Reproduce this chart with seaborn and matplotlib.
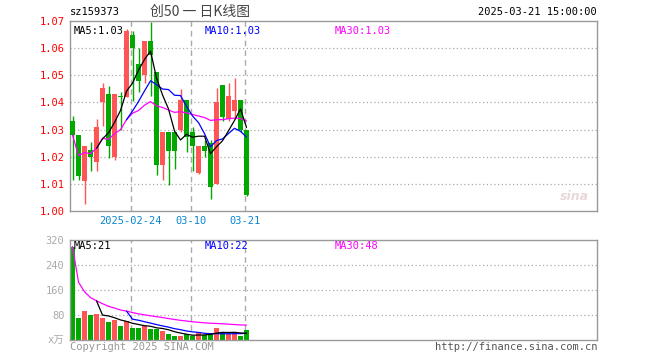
import numpy as np
import pandas as pd
import matplotlib
matplotlib.use("Agg")
import matplotlib.pyplot as plt
import seaborn as sns
from matplotlib.transforms import blended_transform_factory

sns.set_theme(style="white")
plt.rcParams['font.family'] = ['DejaVu Sans Mono', 'Noto Sans CJK SC']

# ---------------- data ----------------
dates = ["2025-02-10", "2025-02-11", "2025-02-12", "2025-02-13", "2025-02-14",
         "2025-02-17", "2025-02-18", "2025-02-19", "2025-02-20", "2025-02-21",
         "2025-02-24", "2025-02-25", "2025-02-26", "2025-02-27", "2025-02-28",
         "2025-03-03", "2025-03-04", "2025-03-05", "2025-03-06", "2025-03-07",
         "2025-03-10", "2025-03-11", "2025-03-12", "2025-03-13", "2025-03-14",
         "2025-03-17", "2025-03-18", "2025-03-19", "2025-03-20", "2025-03-21"]
opens = [1.033, 1.028, 1.011, 1.0225, 1.018, 1.040, 1.043, 1.020, 1.0421, 1.042,
         1.065, 1.054, 1.050, 1.0626, 1.0512, 1.0168, 1.029, 1.029, 1.030, 1.041,
         1.029, 1.014, 1.0238, 1.025, 1.0098, 1.0463, 1.034, 1.037, 1.041, 1.030]
closes = [1.028, 1.0128, 1.0238, 1.020, 1.031, 1.0452, 1.024, 1.043, 1.0420, 1.0665,
          1.060, 1.048, 1.0626, 1.0575, 1.0168, 1.029, 1.022, 1.022, 1.041, 1.0272,
          1.0238, 1.0238, 1.022, 1.0088, 1.040, 1.0348, 1.0422, 1.041, 1.030, 1.0058]
highs = [1.035, 1.028, 1.024, 1.0255, 1.034, 1.047, 1.046, 1.043, 1.0438, 1.067,
         1.0665, 1.060, 1.0626, 1.0696, 1.0512, 1.029, 1.029, 1.029, 1.045, 1.041,
         1.031, 1.0238, 1.026, 1.026, 1.0453, 1.0463, 1.047, 1.049, 1.041, 1.030]
lows = [1.0113, 1.0115, 1.0027, 1.0148, 1.0146, 1.0315, 1.0195, 1.0187, 1.030, 1.042,
        1.0407, 1.044, 1.047, 1.0425, 1.0134, 1.0115, 1.0097, 1.0153, 1.029, 1.0217,
        1.0147, 1.0135, 1.020, 1.0045, 1.0098, 1.033, 1.033, 1.034, 1.029, 1.0054]
volumes = [299, 71, 93, 80, 84, 70, 58, 64, 45, 61,
           39, 39, 45, 36, 36, 28, 19, 14, 14, 18,
           12, 21, 16, 23, 39, 23, 19, 19, 13, 32]

price_ticks = [1.00, 1.01, 1.02, 1.03, 1.04, 1.05, 1.06, 1.07]
vol_ticks = [0, 80, 160, 240, 320]
vol_tick_labels = ["x万", "80", "160", "240", "320"]
date_marks = ["2025-02-24", "2025-03-10", "2025-03-21"]
date_mark_labels = ["2025-02-24", "03-10", "03-21"]

code = "sz159373"
title = "创50 一 日K线图"
stamp = "2025-03-21 15:00:00"

df = pd.DataFrame({"i": np.arange(len(dates)), "date": dates, "open": opens,
                   "close": closes, "high": highs, "low": lows, "vol": volumes})
df["ma5"] = df["close"].rolling(5).mean()
df["ma10"] = df["close"].rolling(10).mean()
df["ma30"] = df["close"].expanding().mean()
df["vma5"] = df["vol"].rolling(5).mean()
df["vma10"] = df["vol"].rolling(10).mean()
df["vma30"] = df["vol"].expanding().mean()

RED = "#ff5555"
GREEN = "#00a800"
GRID = "#aaaaaa"
FRAME = "#999999"
colors = [RED if c >= o else GREEN for o, c in zip(opens, closes)]

# ---------------- figure ----------------
W, H = 660, 360
fig = plt.figure(figsize=(6.6, 3.6), dpi=100)
fig.patch.set_facecolor("white")
ax = fig.add_axes([70 / W, 1 - 211 / H, 527 / W, 190 / H])
axv = fig.add_axes([70 / W, 1 - 340 / H, 527 / W, 100 / H])

xlim = (-0.42, 87.42)
mark_idx = [dates.index(d) for d in date_marks]

for a in (ax, axv):
    a.set_facecolor("white")
    a.set_xlim(*xlim)
    for s in a.spines.values():
        s.set_color(FRAME)
        s.set_linewidth(1.0)
    a.set_xticks([])
    for i in mark_idx:
        a.axvline(i - 0.33, color=GRID, ls=(0, (4, 3)), lw=1.0, zorder=0)

# main panel
ax.set_ylim(1.0, 1.07)
for y in price_ticks[1:-1]:
    ax.axhline(y, color=GRID, ls=(0, (1, 2)), lw=0.9, zorder=0)

ax.vlines(df["i"], df["low"], df["high"], colors=colors, lw=1.0, zorder=2)
body_bottom = np.minimum(df["open"], df["close"])
body_h = np.maximum(np.abs(df["close"] - df["open"]), 0.00025)
ax.bar(df["i"], body_h, bottom=body_bottom, width=0.8, color=colors,
       edgecolor="none", zorder=3)

for col, c in (("ma30", "#ff00ff"), ("ma10", "#0000ff"), ("ma5", "#000000")):
    d = df.dropna(subset=[col])
    sns.lineplot(data=d, x="i", y=col, ax=ax, color=c, lw=0.9, zorder=4, legend=False)
ax.set_xlabel("")
ax.set_ylabel("")
ax.set_xticks([])
ax.set_yticks(price_ticks)
ax.set_yticklabels([f"{v:.2f}" for v in price_ticks])
ax.tick_params(axis="y", length=0, pad=4, labelsize=7.5, labelcolor="#ff0000")

tr = blended_transform_factory(ax.transData, ax.transAxes)
for i, lab in zip(mark_idx, date_mark_labels):
    ax.text(i - 0.33, -0.053, lab, transform=tr, ha="center", va="center",
            fontsize=7.5, color="#0a86d0")

ax.text(0.007, 0.945, f"MA5:{df['ma5'].iloc[-1]:.2f}", transform=ax.transAxes,
        fontsize=7.5, color="black", va="center", ha="left")
ax.text(0.256, 0.945, f"MA10:{df['ma10'].iloc[-1]:.2f}", transform=ax.transAxes,
        fontsize=7.5, color="#0000ff", va="center", ha="left")
ax.text(0.503, 0.945, f"MA30:{df['ma30'].iloc[-1]:.2f}", transform=ax.transAxes,
        fontsize=7.5, color="#ff00ff", va="center", ha="left")
ax.text(0.985, 0.075, "sina", transform=ax.transAxes, fontsize=9, style="italic",
        fontweight="bold", color="#e8d8d8", ha="right", va="center",
        family="DejaVu Sans")

# volume panel
axv.set_ylim(0, 320)
for y in vol_ticks[1:-1]:
    axv.axhline(y, color=GRID, ls=(0, (1, 2)), lw=0.9, zorder=0)
axv.bar(df["i"], df["vol"], width=0.8, color=colors, edgecolor="none", zorder=2)
for col, c in (("vma30", "#ff00ff"), ("vma10", "#0000ff"), ("vma5", "#000000")):
    d = df.dropna(subset=[col])
    sns.lineplot(data=d, x="i", y=col, ax=axv, color=c, lw=0.9, zorder=4, legend=False)
axv.set_xlabel("")
axv.set_ylabel("")
axv.set_xticks([])
axv.set_yticks(vol_ticks)
axv.set_yticklabels(vol_tick_labels)
axv.tick_params(axis="y", length=0, pad=4, labelsize=7.5, labelcolor="#aaaaaa")

axv.text(0.007, 0.94, f"MA5:{df['vma5'].iloc[-1]:.0f}", transform=axv.transAxes,
         fontsize=7.5, color="black", va="center", ha="left")
axv.text(0.256, 0.94, f"MA10:{df['vma10'].iloc[-1]:.0f}", transform=axv.transAxes,
         fontsize=7.5, color="#0000ff", va="center", ha="left")
axv.text(0.503, 0.94, f"MA30:{df['vma30'].iloc[-1]:.0f}", transform=axv.transAxes,
         fontsize=7.5, color="#ff00ff", va="center", ha="left")

# header / footer texts
fig.text(70 / W, 1 - 12 / H, code, fontsize=7.5, color="black", ha="left", va="center")
fig.text(200 / W, 1 - 12 / H, title, fontsize=10, color="#444444", ha="center",
         va="center", family=["Noto Sans CJK SC", "DejaVu Sans"])
fig.text(597 / W, 1 - 12 / H, stamp, fontsize=7.5, color="black", ha="right", va="center")
fig.text(70 / W, 1 - 347 / H, "Copyright 2025 SINA.COM", fontsize=7.5, color="#999999",
         ha="left", va="center")
fig.text(597 / W, 1 - 347 / H, "http://finance.sina.com.cn", fontsize=7.5, color="#555555",
         ha="right", va="center")

fig.savefig("out.png", dpi=100, facecolor="white")
